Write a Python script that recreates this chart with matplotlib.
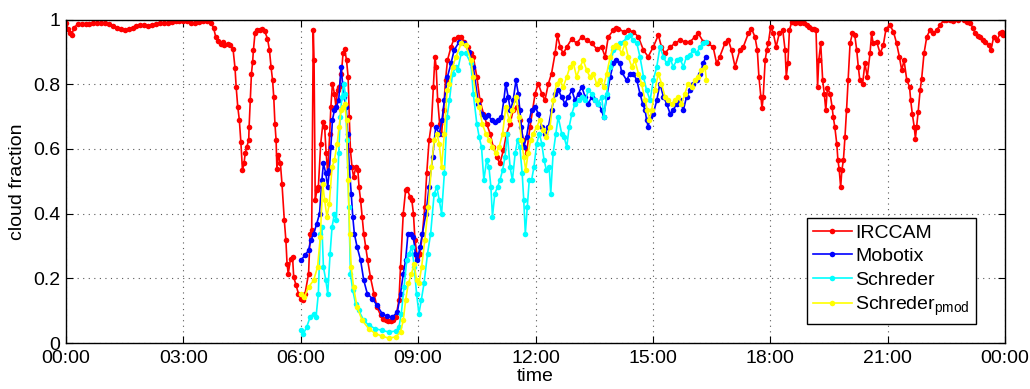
import matplotlib
matplotlib.use("Agg")
import matplotlib.pyplot as plt
from matplotlib.ticker import FixedLocator, FuncFormatter

plt.rcParams["font.family"] = ["Liberation Sans", "DejaVu Sans"]

# time in hours of the day, cloud fraction
irccam_t = [
    0.00, 0.05, 0.10, 0.15, 0.20, 0.30, 0.40, 0.50, 0.60, 0.70, 0.80, 0.90,
    1.00, 1.10, 1.20, 1.30, 1.40, 1.50, 1.60, 1.70, 1.80, 1.90, 2.00, 2.10,
    2.20, 2.30, 2.40, 2.50, 2.60, 2.70, 2.80, 2.90, 3.00, 3.10, 3.20, 3.30,
    3.40, 3.50, 3.60, 3.70, 3.77, 3.83, 3.88, 3.95, 4.00, 4.05, 4.13, 4.20,
    4.27, 4.32, 4.35, 4.39, 4.43, 4.47, 4.51, 4.55, 4.58, 4.62, 4.67, 4.68,
    4.71, 4.74, 4.77, 4.79, 4.83, 4.88, 4.95, 5.02, 5.08, 5.15, 5.20, 5.24,
    5.28, 5.31, 5.34, 5.37, 5.39, 5.43, 5.48, 5.52, 5.58, 5.62, 5.65, 5.68,
    5.74, 5.79, 5.82, 5.88, 5.94, 6.00, 6.06, 6.11, 6.20, 6.24, 6.28, 6.32,
    6.34, 6.37, 6.41, 6.45, 6.51, 6.57, 6.61, 6.65, 6.69, 6.74, 6.77, 6.81,
    6.86, 6.90, 6.94, 6.99, 7.04, 7.08, 7.12, 7.17, 7.21, 7.24, 7.27, 7.31,
    7.35, 7.41, 7.46, 7.49, 7.53, 7.57, 7.61, 7.66, 7.71, 7.78, 7.87, 7.95,
    8.04, 8.10, 8.17, 8.24, 8.30, 8.37, 8.43, 8.51, 8.55, 8.62, 8.68, 8.72,
    8.79, 8.84, 8.88, 8.92, 8.98, 9.05, 9.11, 9.17, 9.22, 9.28, 9.34, 9.39,
    9.43, 9.46, 9.50, 9.55, 9.60, 9.65, 9.70, 9.75, 9.84, 9.92, 10.01, 10.10,
    10.18, 10.27, 10.35, 10.41, 10.50, 10.58, 10.67, 10.75, 10.84, 10.92, 11.01, 11.09,
    11.18, 11.26, 11.35, 11.43, 11.52, 11.60, 11.69, 11.77, 11.86, 11.99, 12.07, 12.16,
    12.24, 12.33, 12.41, 12.50, 12.56, 12.63, 12.71, 12.80, 12.93, 13.05, 13.18, 13.31,
    13.44, 13.56, 13.69, 13.78, 13.86, 13.99, 14.07, 14.12, 14.25, 14.37, 14.50, 14.63,
    14.76, 14.88, 15.01, 15.14, 15.22, 15.31, 15.44, 15.56, 15.69, 15.82, 15.95, 16.07,
    16.16, 16.29, 16.41, 16.54, 16.63, 16.71, 16.84, 16.93, 17.01, 17.10, 17.22, 17.31,
    17.44, 17.52, 17.61, 17.67, 17.71, 17.76, 17.79, 17.82, 17.87, 17.91, 17.95, 18.01,
    18.08, 18.15, 18.23, 18.32, 18.38, 18.41, 18.45, 18.49, 18.55, 18.62, 18.68, 18.75,
    18.81, 18.87, 18.93, 19.00, 19.06, 19.12, 19.17, 19.21, 19.24, 19.29, 19.34, 19.38,
    19.42, 19.46, 19.53, 19.58, 19.61, 19.65, 19.70, 19.73, 19.76, 19.80, 19.83, 19.87,
    19.91, 19.95, 19.99, 20.04, 20.10, 20.16, 20.21, 20.25, 20.29, 20.36, 20.42, 20.48,
    20.55, 20.59, 20.63, 20.72, 20.81, 20.89, 20.96, 21.06, 21.15, 21.23, 21.30, 21.36,
    21.42, 21.49, 21.56, 21.59, 21.63, 21.68, 21.71, 21.74, 21.78, 21.83, 21.87, 21.93,
    22.00, 22.08, 22.17, 22.25, 22.34, 22.43, 22.50, 22.60, 22.68, 22.80, 22.94, 23.03,
    23.11, 23.18, 23.24, 23.30, 23.37, 23.44, 23.50, 23.58, 23.64, 23.71, 23.79, 23.88,
    23.92, 23.96, 24.00,
]
irccam = [
    0.988, 0.970, 0.958, 0.951, 0.975, 0.985, 0.986, 0.987, 0.987, 0.988, 0.988, 0.989,
    0.988, 0.985, 0.980, 0.975, 0.971, 0.968, 0.970, 0.975, 0.980, 0.982, 0.983, 0.981,
    0.984, 0.985, 0.988, 0.990, 0.988, 0.992, 0.995, 0.996, 0.995, 0.994, 0.990, 0.988,
    0.992, 0.994, 0.995, 0.990, 0.975, 0.945, 0.935, 0.925, 0.930, 0.920, 0.925, 0.920,
    0.908, 0.850, 0.790, 0.730, 0.690, 0.620, 0.534, 0.555, 0.586, 0.606, 0.627, 0.668,
    0.750, 0.833, 0.869, 0.905, 0.957, 0.966, 0.968, 0.970, 0.963, 0.941, 0.905, 0.854,
    0.812, 0.760, 0.678, 0.627, 0.539, 0.580, 0.555, 0.493, 0.379, 0.318, 0.245, 0.214,
    0.261, 0.266, 0.204, 0.178, 0.153, 0.137, 0.132, 0.153, 0.214, 0.338, 0.348, 0.967,
    0.874, 0.441, 0.472, 0.482, 0.616, 0.684, 0.668, 0.586, 0.524, 0.647, 0.730, 0.802,
    0.771, 0.730, 0.781, 0.792, 0.833, 0.895, 0.910, 0.874, 0.823, 0.699, 0.596, 0.544,
    0.513, 0.544, 0.534, 0.482, 0.441, 0.390, 0.338, 0.297, 0.256, 0.204, 0.153, 0.111,
    0.086, 0.075, 0.070, 0.068, 0.068, 0.072, 0.080, 0.132, 0.235, 0.400, 0.472, 0.477,
    0.452, 0.441, 0.400, 0.318, 0.266, 0.276, 0.338, 0.421, 0.524, 0.627, 0.678, 0.792,
    0.885, 0.854, 0.750, 0.678, 0.647, 0.720, 0.812, 0.874, 0.915, 0.941, 0.946, 0.946,
    0.931, 0.915, 0.895, 0.885, 0.823, 0.750, 0.709, 0.678, 0.647, 0.606, 0.575, 0.555,
    0.596, 0.647, 0.678, 0.720, 0.730, 0.689, 0.627, 0.586, 0.668, 0.771, 0.802, 0.771,
    0.750, 0.802, 0.833, 0.895, 0.951, 0.915, 0.895, 0.915, 0.941, 0.926, 0.946, 0.936,
    0.926, 0.910, 0.915, 0.885, 0.946, 0.967, 0.975, 0.972, 0.962, 0.967, 0.962, 0.946,
    0.905, 0.885, 0.915, 0.952, 0.915, 0.895, 0.915, 0.926, 0.936, 0.931, 0.931, 0.946,
    0.957, 0.931, 0.926, 0.915, 0.864, 0.885, 0.926, 0.936, 0.905, 0.854, 0.905, 0.915,
    0.957, 0.972, 0.946, 0.905, 0.823, 0.761, 0.725, 0.761, 0.874, 0.905, 0.926, 0.977,
    0.957, 0.915, 0.957, 0.967, 0.905, 0.823, 0.864, 0.967, 0.993, 0.990, 0.993, 0.990,
    0.993, 0.988, 0.982, 0.978, 0.972, 0.970, 0.967, 0.792, 0.874, 0.926, 0.812, 0.771,
    0.720, 0.787, 0.771, 0.730, 0.699, 0.668, 0.616, 0.565, 0.539, 0.482, 0.534, 0.565,
    0.637, 0.720, 0.812, 0.926, 0.957, 0.952, 0.905, 0.854, 0.812, 0.802, 0.864, 0.823,
    0.895, 0.957, 0.926, 0.931, 0.895, 0.921, 0.972, 0.982, 0.962, 0.926, 0.885, 0.843,
    0.874, 0.812, 0.792, 0.750, 0.709, 0.668, 0.632, 0.668, 0.714, 0.781, 0.817, 0.895,
    0.946, 0.967, 0.957, 0.967, 0.982, 0.998, 0.998, 0.997, 0.996, 0.997, 0.998, 0.993,
    0.988, 0.975, 0.957, 0.950, 0.946, 0.938, 0.931, 0.921, 0.905, 0.946, 0.936, 0.957,
    0.962, 0.952, 0.955,
]

mobotix_t = [
    6.00, 6.11, 6.20, 6.26, 6.33, 6.41, 6.48, 6.54, 6.58, 6.64, 6.69, 6.73,
    6.77, 6.81, 6.86, 6.91, 6.97, 7.03, 7.07, 7.11, 7.16, 7.20, 7.24, 7.29,
    7.33, 7.37, 7.44, 7.53, 7.61, 7.70, 7.83, 7.95, 8.08, 8.21, 8.34, 8.47,
    8.55, 8.62, 8.68, 8.74, 8.81, 8.88, 8.93, 8.98, 9.05, 9.11, 9.20, 9.28,
    9.37, 9.45, 9.54, 9.61, 9.67, 9.75, 9.84, 9.92, 10.05, 10.18, 10.31, 10.41,
    10.54, 10.62, 10.71, 10.79, 10.88, 10.96, 11.05, 11.13, 11.19, 11.24, 11.30, 11.36,
    11.43, 11.50, 11.56, 11.60, 11.64, 11.70, 11.77, 11.84, 11.90, 11.99, 12.07, 12.16,
    12.24, 12.33, 12.41, 12.50, 12.58, 12.67, 12.75, 12.84, 12.93, 13.01, 13.10, 13.18,
    13.27, 13.35, 13.44, 13.52, 13.61, 13.69, 13.74, 13.82, 13.91, 13.99, 14.07, 14.16,
    14.20, 14.33, 14.41, 14.50, 14.59, 14.67, 14.74, 14.80, 14.84, 14.88, 14.93, 15.01,
    15.10, 15.18, 15.27, 15.35, 15.44, 15.52, 15.61, 15.69, 15.78, 15.86, 15.95, 16.03,
    16.12, 16.20, 16.29, 16.35,
]
mobotix = [
    0.256, 0.271, 0.287, 0.318, 0.338, 0.369, 0.400, 0.503, 0.555, 0.524, 0.482, 0.534,
    0.606, 0.689, 0.720, 0.730, 0.750, 0.854, 0.802, 0.761, 0.730, 0.647, 0.544, 0.462,
    0.390, 0.338, 0.297, 0.256, 0.194, 0.153, 0.137, 0.116, 0.091, 0.082, 0.080, 0.096,
    0.153, 0.214, 0.256, 0.338, 0.338, 0.328, 0.276, 0.256, 0.297, 0.338, 0.400, 0.482,
    0.575, 0.668, 0.647, 0.689, 0.750, 0.823, 0.864, 0.905, 0.931, 0.926, 0.900, 0.854,
    0.740, 0.709, 0.699, 0.704, 0.689, 0.684, 0.689, 0.699, 0.750, 0.802, 0.761, 0.720,
    0.750, 0.812, 0.771, 0.720, 0.668, 0.606, 0.637, 0.689, 0.720, 0.730, 0.709, 0.668,
    0.647, 0.668, 0.720, 0.771, 0.781, 0.761, 0.740, 0.761, 0.781, 0.750, 0.771, 0.792,
    0.761, 0.740, 0.761, 0.750, 0.740, 0.720, 0.699, 0.761, 0.823, 0.864, 0.874, 0.864,
    0.838, 0.812, 0.833, 0.833, 0.812, 0.771, 0.740, 0.720, 0.689, 0.668, 0.699, 0.709,
    0.750, 0.802, 0.761, 0.740, 0.709, 0.720, 0.740, 0.750, 0.720, 0.761, 0.781, 0.802,
    0.812, 0.833, 0.864, 0.885,
]

schreder_t = [
    6.00, 6.07, 6.15, 6.24, 6.33, 6.39, 6.45, 6.50, 6.54, 6.58, 6.64, 6.69,
    6.75, 6.80, 6.86, 6.91, 6.97, 7.01, 7.05, 7.10, 7.14, 7.18, 7.23, 7.27,
    7.33, 7.40, 7.48, 7.61, 7.74, 7.91, 8.08, 8.25, 8.43, 8.51, 8.57, 8.64,
    8.71, 8.77, 8.84, 8.90, 8.96, 9.02, 9.08, 9.15, 9.24, 9.32, 9.41, 9.48,
    9.54, 9.60, 9.67, 9.74, 9.80, 9.88, 9.97, 10.01, 10.10, 10.22, 10.35, 10.41,
    10.50, 10.56, 10.62, 10.68, 10.75, 10.81, 10.86, 10.90, 10.96, 11.03, 11.09, 11.16,
    11.22, 11.28, 11.35, 11.41, 11.48, 11.54, 11.60, 11.66, 11.70, 11.74, 11.79, 11.84,
    11.90, 11.96, 12.03, 12.10, 12.16, 12.22, 12.28, 12.35, 12.39, 12.45, 12.52, 12.58,
    12.67, 12.73, 12.80, 12.86, 12.93, 13.01, 13.10, 13.18, 13.27, 13.35, 13.44, 13.52,
    13.60, 13.69, 13.75, 13.82, 13.91, 13.99, 14.07, 14.16, 14.25, 14.33, 14.41, 14.50,
    14.59, 14.67, 14.76, 14.84, 14.93, 15.01, 15.10, 15.18, 15.27, 15.35, 15.44, 15.52,
    15.61, 15.69, 15.78, 15.86, 15.95, 16.03, 16.12, 16.20, 16.29, 16.35,
]
schreder = [
    0.039, 0.029, 0.049, 0.080, 0.091, 0.080, 0.153, 0.338, 0.359, 0.235, 0.194, 0.153,
    0.276, 0.359, 0.400, 0.379, 0.586, 0.699, 0.761, 0.802, 0.771, 0.627, 0.421, 0.214,
    0.163, 0.122, 0.101, 0.070, 0.055, 0.044, 0.039, 0.034, 0.037, 0.049, 0.091, 0.173,
    0.256, 0.276, 0.297, 0.235, 0.153, 0.091, 0.132, 0.184, 0.276, 0.338, 0.462, 0.482,
    0.441, 0.400, 0.524, 0.699, 0.750, 0.833, 0.854, 0.843, 0.895, 0.895, 0.864, 0.771,
    0.678, 0.637, 0.606, 0.503, 0.565, 0.544, 0.482, 0.390, 0.462, 0.482, 0.503, 0.534,
    0.575, 0.647, 0.544, 0.503, 0.586, 0.627, 0.606, 0.524, 0.441, 0.338, 0.421, 0.503,
    0.503, 0.544, 0.616, 0.647, 0.616, 0.565, 0.534, 0.544, 0.462, 0.586, 0.647, 0.699,
    0.647, 0.637, 0.606, 0.668, 0.709, 0.740, 0.750, 0.761, 0.750, 0.781, 0.771, 0.750,
    0.740, 0.761, 0.699, 0.771, 0.854, 0.905, 0.915, 0.926, 0.931, 0.946, 0.952, 0.936,
    0.926, 0.885, 0.823, 0.781, 0.750, 0.812, 0.854, 0.915, 0.885, 0.864, 0.879, 0.854,
    0.874, 0.879, 0.854, 0.885, 0.890, 0.905, 0.895, 0.915, 0.926, 0.931,
]

pmod_t = [
    6.00, 6.09, 6.20, 6.33, 6.43, 6.50, 6.56, 6.61, 6.67, 6.73, 6.80, 6.86,
    6.93, 6.98, 7.03, 7.08, 7.12, 7.17, 7.21, 7.25, 7.29, 7.35, 7.44, 7.57,
    7.74, 7.91, 8.08, 8.25, 8.43, 8.55, 8.62, 8.68, 8.75, 8.83, 8.90, 8.96,
    9.02, 9.09, 9.17, 9.26, 9.34, 9.41, 9.48, 9.54, 9.60, 9.67, 9.74, 9.80,
    9.88, 9.97, 10.10, 10.22, 10.35, 10.41, 10.50, 10.56, 10.64, 10.73, 10.82, 10.90,
    10.99, 11.07, 11.16, 11.24, 11.33, 11.41, 11.50, 11.58, 11.64, 11.70, 11.75, 11.81,
    11.88, 11.94, 12.03, 12.11, 12.20, 12.28, 12.37, 12.45, 12.54, 12.62, 12.71, 12.80,
    12.88, 12.97, 13.05, 13.14, 13.22, 13.31, 13.39, 13.48, 13.56, 13.65, 13.74, 13.82,
    13.91, 13.99, 14.07, 14.12, 14.20, 14.29, 14.37, 14.46, 14.54, 14.63, 14.71, 14.80,
    14.86, 14.91, 14.97, 15.05, 15.14, 15.22, 15.31, 15.39, 15.48, 15.56, 15.65, 15.73,
    15.82, 15.90, 15.99, 16.07, 16.16, 16.24, 16.33, 16.37,
]
pmod = [
    0.153, 0.142, 0.173, 0.194, 0.235, 0.328, 0.493, 0.441, 0.390, 0.431, 0.544, 0.565,
    0.616, 0.668, 0.720, 0.730, 0.740, 0.689, 0.503, 0.338, 0.235, 0.173, 0.111, 0.070,
    0.044, 0.029, 0.021, 0.015, 0.019, 0.034, 0.070, 0.132, 0.184, 0.214, 0.245, 0.194,
    0.184, 0.235, 0.318, 0.421, 0.544, 0.627, 0.647, 0.616, 0.544, 0.647, 0.781, 0.802,
    0.854, 0.885, 0.926, 0.921, 0.874, 0.823, 0.750, 0.730, 0.678, 0.647, 0.627, 0.606,
    0.586, 0.606, 0.647, 0.730, 0.689, 0.720, 0.761, 0.699, 0.627, 0.575, 0.534, 0.586,
    0.627, 0.647, 0.668, 0.689, 0.658, 0.637, 0.668, 0.750, 0.802, 0.812, 0.792, 0.823,
    0.854, 0.864, 0.823, 0.854, 0.874, 0.843, 0.823, 0.833, 0.802, 0.812, 0.792, 0.833,
    0.885, 0.915, 0.921, 0.915, 0.895, 0.926, 0.885, 0.854, 0.874, 0.833, 0.802, 0.750,
    0.720, 0.689, 0.720, 0.781, 0.833, 0.802, 0.761, 0.750, 0.740, 0.750, 0.761, 0.740,
    0.771, 0.802, 0.792, 0.812, 0.823, 0.843, 0.854, 0.812,
]

series = [
    (irccam_t, irccam, "IRCCAM", "#ff0000"),
    (mobotix_t, mobotix, "Mobotix", "#0000ff"),
    (schreder_t, schreder, "Schreder", "#00ffff"),
    (pmod_t, pmod, r"Schreder$_\mathregular{pmod}$", "#ffff00"),
]
tick_hours = [0, 3, 6, 9, 12, 15, 18, 21, 24]

fig = plt.figure(figsize=(10.30, 3.89), dpi=100)
ax = fig.add_axes([66 / 1030, 1 - 343 / 389, 939 / 1030, 323.5 / 389])

for t, v, name, col in series:
    ax.plot(t, v, "-", color=col, lw=1.2, marker="o", ms=4.0, mew=0,
            label=name)

ax.set_xlim(0, 24)
ax.set_ylim(0, 1)
ax.xaxis.set_major_locator(FixedLocator(tick_hours))
ax.xaxis.set_major_formatter(FuncFormatter(lambda h, p: "%02d:00" % (int(round(h)) % 24)))
ax.set_yticks([0, 0.2, 0.4, 0.6, 0.8, 1.0])
ax.set_yticklabels(["0", "0.2", "0.4", "0.6", "0.8", "1"])
ax.grid(True, linestyle=(0, (1, 4)), color="0.35", linewidth=0.8)
ax.tick_params(direction="in", top=True, right=True, length=5, labelsize=14)
ax.tick_params(axis="x", pad=5)
ax.tick_params(axis="y", pad=4)
for s in ax.spines.values():
    s.set_linewidth(1.0)
ax.set_xlabel("time", fontsize=14, labelpad=1)
ax.set_ylabel("cloud fraction", fontsize=14, labelpad=5)

leg = ax.legend(loc="lower right", bbox_to_anchor=(0.969, 0.059), fontsize=14,
                fancybox=False, framealpha=1, edgecolor="black", handlelength=2.0,
                handletextpad=0.2, labelspacing=0.3, borderpad=0.3,
                borderaxespad=0)
leg.get_frame().set_linewidth(1.0)

fig.savefig("out.png", dpi=100)
